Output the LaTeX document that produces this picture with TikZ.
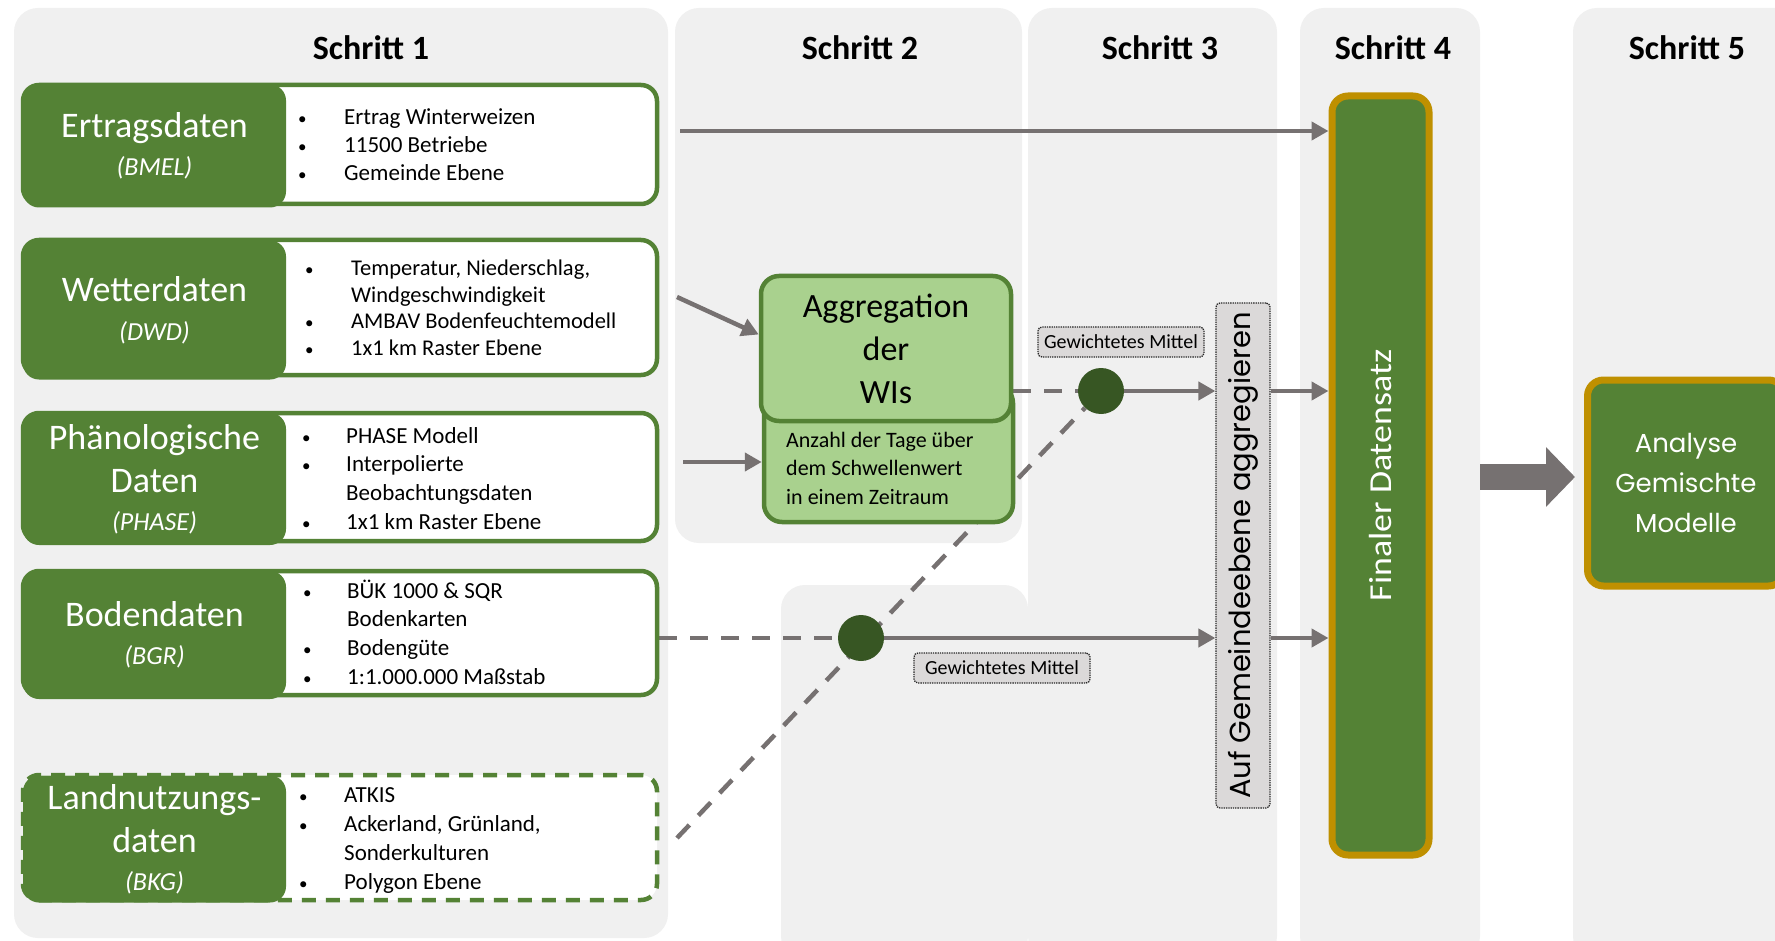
\documentclass[tikz,border=0pt]{standalone}
\usepackage{fontspec}
\setmainfont{Carlito}
\newfontfamily\geofont{Poppins}
\usetikzlibrary{arrows.meta,calc}
\pgfdeclarelayer{bg}
\pgfdeclarelayer{edges}
\pgfsetlayers{bg,edges,main}
\definecolor{dgreen}{HTML}{548235}
\definecolor{lgreen}{HTML}{A9D18E}
\definecolor{cgreen}{HTML}{375623}
\definecolor{gold}{HTML}{BF9000}
\definecolor{panelgray}{HTML}{F0F0F0}
\definecolor{cgray}{HTML}{767171}
\definecolor{lblgray}{HTML}{DBD9D9}
\newcommand{\fsz}[2]{\fontsize{#1}{#2}\selectfont}
\newcommand{\bu}{{\fontsize{17}{17}\selectfont •}}
\tikzset{
  panel/.style={fill=panelgray, rounded corners=24pt},
  steptitle/.style={font=\bfseries\fsz{34}{40}, inner sep=0pt},
  listbox/.style={draw=dgreen, line width=4.5pt, fill=white, rounded corners=16pt, inner sep=0pt},
  srcbox/.style={fill=dgreen, rounded corners=16pt, text=white, align=center, inner sep=0pt, font=\fsz{36}{43}},
  listtext/.style={anchor=base west, inner sep=0pt},
  aggbox/.style={draw=dgreen, line width=4.5pt, fill=lgreen, rounded corners=18pt, inner sep=0pt},
  lbl/.style={fill=lblgray, draw=black!85, densely dotted, line width=1.3pt, rounded corners=4pt, inner sep=0pt},
  goldbox/.style={fill=dgreen, draw=gold, line width=7pt, rounded corners=16pt, text=white, inner sep=0pt},
  dot/.style={circle, fill=cgreen, minimum size=46pt, inner sep=0pt},
  conn/.style={draw=cgray, line width=4.5pt, -{Triangle[length=17pt,width=18pt]}},
  dconn/.style={draw=cgray, line width=4.5pt, dash pattern=on 18pt off 13pt},
  bigarrow/.style={draw=cgray, line width=26pt, -{Triangle[length=29pt,width=58pt]}},
}
\begin{document}
\begin{tikzpicture}[x=1pt,y=-1pt]
\useasboundingbox (0,0) rectangle (1775,941);
\clip (0,0) rectangle (1775,941);
\begin{pgfonlayer}{bg}
\fill[white] (0,0) rectangle (1775,941);
\path[panel] (14,8) rectangle (668,938);
\path[panel] (675,8) rectangle (1022,543);
\path[panel] (781,585) rectangle (1028,960);
\path[panel] (1028,8) rectangle (1277,960);
\path[panel] (1300,8) rectangle (1480,960);
\path[panel] (1573,8) rectangle (1810,960);
\end{pgfonlayer}

% titles
\node[steptitle] (t1) at (371,48) {Schritt 1};
\node[steptitle] (t2) at (860,48) {Schritt 2};
\node[steptitle] (t3) at (1160,48) {Schritt 3};
\node[steptitle] (t4) at (1393,48) {Schritt 4};
\node[steptitle] (t5) at (1687,48) {Schritt 5};

% source 1
\node[listbox, minimum width=634pt, minimum height=119pt] (erb) at (340,144.5) {};
\node[srcbox, minimum width=263pt, minimum height=123pt] (er) at (154.5,146) {Ertragsdaten\\[-5pt]{\fsz{26}{30}\itshape (BMEL)}};
\node[listtext, font=\fsz{23}{28}] (erl) at (298,125) {\begin{tabular}[t]{@{}p{46pt}@{}l@{}}\bu & Ertrag Winterweizen\\\bu & 11500 Betriebe\\\bu & Gemeinde Ebene\end{tabular}};

% source 2
\node[listbox, minimum width=634pt, minimum height=135pt] (wb) at (340,307.5) {};
\node[srcbox, minimum width=263pt, minimum height=139pt] (we) at (154.5,310) {Wetterdaten\\[-4pt]{\fsz{26}{30}\itshape (DWD)}};
\node[listtext, font=\fsz{22.5}{26.5}] (wel) at (305,276) {\begin{tabular}[t]{@{}p{46pt}@{}l@{}}\bu & Temperatur, Niederschlag,\\ & Windgeschwindigkeit\\\bu & AMBAV Bodenfeuchtemodell\\\bu & 1x1 km Raster Ebene\end{tabular}};

% source 3
\node[listbox, minimum width=634pt, minimum height=128pt] (pb) at (340,477) {};
\node[srcbox, minimum width=263pt, minimum height=132pt] (ph) at (154.5,479) {Phänologische\\Daten\\[-5pt]{\fsz{26}{30}\itshape (PHASE)}};
\node[listtext, font=\fsz{23}{28.7}] (phl) at (302,443) {\begin{tabular}[t]{@{}p{44pt}@{}l@{}}\bu & PHASE Modell\\\bu & Interpolierte\\ & Beobachtungsdaten\\\bu & 1x1 km Raster Ebene\end{tabular}};

% source 4
\node[listbox, minimum width=634pt, minimum height=124pt] (bb) at (340,633) {};
\node[srcbox, minimum width=263pt, minimum height=128pt] (bo) at (154.5,635) {Bodendaten\\[-5pt]{\fsz{26}{30}\itshape (BGR)}};
\node[listtext, font=\fsz{23}{28.7}] (bol) at (303,598) {\begin{tabular}[t]{@{}p{44pt}@{}l@{}}\bu & BÜK 1000 \& SQR\\ & Bodenkarten\\\bu & Bodengüte\\\bu & 1:1.000.000 Maßstab\end{tabular}};

% source 5
\node[listbox, dash pattern=on 14pt off 10pt, minimum width=634pt, minimum height=125pt] (lb) at (340,837.5) {};
\node[srcbox, minimum width=263pt, minimum height=127pt] (la) at (154.5,839) {Landnutzungs-\\daten\\[-5pt]{\fsz{26}{30}\itshape (BKG)}};
\node[listtext, font=\fsz{23}{29}] (lal) at (299,802) {\begin{tabular}[t]{@{}p{45pt}@{}l@{}}\bu & ATKIS\\\bu & Ackerland, Grünland,\\ & Sonderkulturen\\\bu & Polygon Ebene\end{tabular}};

% aggregation
\node[aggbox, minimum width=249pt, minimum height=137pt] (aggl) at (888.5,453.5) {};
\node[listtext, font=\fsz{22}{28.5}] (agglt) at (786,447) {\begin{tabular}[t]{@{}l@{}}Anzahl der Tage über\\dem Schwellenwert\\in einem Zeitraum\end{tabular}};
\node[aggbox, minimum width=250pt, minimum height=145pt, align=center, font=\fsz{34}{43}] (agg) at (886,348.5) {Aggregation\\der\\WIs};

% labels
\node[lbl, minimum width=166pt, minimum height=30pt, font=\fsz{20}{22}] (g1) at (1121,342) {Gewichtetes Mittel};
\node[lbl, minimum width=176pt, minimum height=30pt, font=\fsz{20}{22}] (g2) at (1002,668) {Gewichtetes Mittel};
\node[lbl, minimum width=54pt, minimum height=505pt] (auf) at (1243,555.5) {\rotatebox{90}{\geofont\fsz{29}{30}Auf Gemeindeebene aggregieren}};

% final
\node[goldbox, minimum width=97pt, minimum height=759pt] (fin) at (1380.5,475.5) {\rotatebox{90}{\scalebox{1.12}[1]{\fsz{32}{34}Finaler Datensatz}}};
\node[goldbox, minimum width=197pt, minimum height=206pt, align=center, font=\geofont\fsz{26}{40}] (ana) at (1686,483) {Analyse\\Gemischte\\Modelle};

% dots
\node[dot] (k1) at (1101,391) {};
\node[dot] (k2) at (861,638) {};

\coordinate (s1) at (680,131);
\coordinate (s2) at (677,297);
\coordinate (s3) at (683,462);
\coordinate (s5) at (677,838);
\coordinate (ba) at (1480,477);

\begin{pgfonlayer}{edges}
\draw[conn] (s1) -- (s1 -| fin.west);
\draw[conn] (s2) -- ([yshift=14pt]agg.west);
\draw[conn] (s3) -- (s3 -| aggl.west);
\draw[dconn] (agg.east |- k1) -- (k1);
\draw[conn] (k1) -- (k1 -| auf.west);
\draw[conn] (k1 -| auf.east) -- (k1 -| fin.west);
\draw[dconn] (bb.east |- k2) -- (k2);
\draw[conn] (k2) -- (k2 -| auf.west);
\draw[conn] (k2 -| auf.east) -- (k2 -| fin.west);
\draw[dconn] (s5) -- (k1);
\draw[bigarrow] (ba) -- ([xshift=-9pt]ana.west |- ba);
\end{pgfonlayer}
\end{tikzpicture}
\end{document}
